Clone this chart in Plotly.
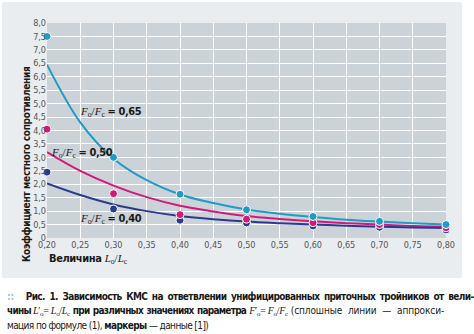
import plotly.graph_objects as go

# Relative length Lo/Lc
x_line = [0.20, 0.25, 0.30, 0.35, 0.40, 0.45, 0.50, 0.55, 0.60, 0.65, 0.70, 0.75, 0.80]
x_pts = [0.20, 0.30, 0.40, 0.50, 0.60, 0.70, 0.80]

# Approximation curves (formula 1)
fit_065 = [6.45, 4.30, 2.95, 2.15, 1.62, 1.30, 1.06, 0.90, 0.78, 0.68, 0.61, 0.55, 0.50]
fit_050 = [3.20, 2.50, 1.95, 1.52, 1.20, 0.99, 0.82, 0.71, 0.62, 0.55, 0.50, 0.45, 0.42]
fit_040 = [2.03, 1.60, 1.25, 1.00, 0.82, 0.70, 0.61, 0.55, 0.50, 0.46, 0.42, 0.39, 0.37]

# Reference data [1]
data_065 = [7.50, 3.00, 1.63, 1.05, 0.80, 0.62, 0.50]
data_050 = [4.05, 1.65, 0.87, 0.70, 0.57, 0.50, 0.38]
data_040 = [2.45, 1.08, 0.66, 0.56, 0.45, 0.40, 0.30]

x_ticks = [0.20, 0.25, 0.30, 0.35, 0.40, 0.45, 0.50, 0.55, 0.60, 0.65, 0.70, 0.75, 0.80]
x_ticktext = ["0,20", "0,25", "0,30", "0,35", "0,40", "0,45", "0,50", "0,55", "0,60", "0,65", "0,70", "0,75", "0,80"]
y_ticks = [0, 0.5, 1.0, 1.5, 2.0, 2.5, 3.0, 3.5, 4.0, 4.5, 5.0, 5.5, 6.0, 6.5, 7.0, 7.5, 8.0]
y_ticktext = ["0", "0,5", "1,0", "1,5", "2,0", "2,5", "3,0", "3,5", "4,0", "4,5", "5,0", "5,5", "6,0", "6,5", "7,0", "7,5", "8,0"]

C_CYAN = "#1f9cc6"
C_MAGENTA = "#d4197c"
C_NAVY = "#2b3a8f"

W, H = 474, 334
L, R, T, B = 47, 28, 23, 96
PW, PH = W - L - R, H - T - B

NARROW = "DejaVu Sans Condensed, Liberation Sans Narrow, sans-serif"
SERIF = "Liberation Serif, DejaVu Serif, serif"


def px(x):
    return (x - L) / PW


def py(y):
    return (H - B - y) / PH


def tight(txt, ls, ws=0):
    return f"<span style='letter-spacing:{ls}px; word-spacing:{ws}px'>{txt}</span>"


fig = go.Figure()

for fit, col in [(fit_065, C_CYAN), (fit_050, C_MAGENTA), (fit_040, C_NAVY)]:
    fig.add_trace(go.Scatter(x=x_line, y=fit, mode="lines",
                             line=dict(color=col, width=2, shape="spline", smoothing=1.0),
                             hoverinfo="skip", showlegend=False))
for data, col in [(data_040, C_NAVY), (data_050, C_MAGENTA), (data_065, C_CYAN)]:
    fig.add_trace(go.Scatter(x=x_pts, y=data, mode="markers",
                             marker=dict(color=col, size=8, line=dict(color="white", width=1)),
                             cliponaxis=False, showlegend=False))

# light panel behind the chart, then the plot area itself
fig.add_shape(type="rect", xref="paper", yref="paper", layer="below",
              x0=px(2), x1=px(462), y0=py(278), y1=py(2),
              fillcolor="#e9edf0", line=dict(width=0))
fig.add_shape(type="rect", xref="paper", yref="paper", layer="below",
              x0=0, x1=1, y0=0, y1=1,
              fillcolor="#cbd2d8", line=dict(width=0))


def ratio(sym):
    return (f"<span style='font-family:{SERIF}'><i>{sym}</i><sub>o</sub>/"
            f"<i>{sym}</i><sub>c</sub></span>")


def param(sym):
    return (f"<span style='font-family:{SERIF}; letter-spacing:-0.3px'><i>{sym}</i>′<sub>o</sub>="
            f" <i>{sym}</i><sub>o</sub>/<i>{sym}</i><sub>c</sub></span>")


ann = []
for label, cx, cy in [("0,65", 111, 112), ("0,50", 82, 153), ("0,40", 111, 219)]:
    ann.append(dict(x=px(cx), y=py(cy), xref="paper", yref="paper", showarrow=False,
                    xanchor="center", yanchor="middle",
                    text=ratio("F") + tight(f" <b>= {label}</b>", -0.4),
                    font=dict(family=NARROW, size=11, color="#1a1a1a")))

ann.append(dict(x=px(27), y=py(164), xref="paper", yref="paper", showarrow=False,
                xanchor="center", yanchor="middle",
                textangle=-90, text=tight("<b>Коэффициент местного сопротивления</b>", -0.3),
                font=dict(family=NARROW, size=10, color="#1a1a1a")))
ann.append(dict(x=px(47), y=py(259), xref="paper", yref="paper", showarrow=False,
                xanchor="left", yanchor="middle",
                text=tight("<b>Величина</b>", -0.4) + " " + ratio("L"),
                font=dict(family=NARROW, size=11, color="#1a1a1a")))

caption = [
    ("<span style='color:#8fc6dc'><b>::</b></span>    " + tight(
        "<b>Рис. 1. Зависимость КМС на ответвлении "
        "унифицированных приточных тройников от вели-</b>", -0.6, 2), 296),
    (tight("<b>чины</b> ", -0.75) + param("L") + " " +
     tight("<b>при различных значениях параметра</b> ", -0.75, 1) + param("F") + " " +
     tight("(сплошные линии — аппрокси-", -0.1, 3), 311),
    (tight("мация по формуле (1), <b>маркеры</b> — данные [1])", -0.6), 325),
]
for txt, cy in caption:
    ann.append(dict(x=px(5), y=py(cy), xref="paper", yref="paper", showarrow=False,
                    xanchor="left", yanchor="middle", text=txt,
                    font=dict(family=NARROW, size=10, color="#1a1a1a")))

fig.update_layout(
    width=W, height=H,
    margin=dict(l=L, r=R, t=T, b=B),
    paper_bgcolor="white",
    plot_bgcolor="rgba(0,0,0,0)",
    annotations=ann,
    xaxis=dict(range=[0.20, 0.80], tickvals=x_ticks, ticktext=x_ticktext,
               showgrid=True, gridcolor="white", gridwidth=1, zeroline=False,
               showline=False, ticks="", ticklen=0,
               tickfont=dict(family=NARROW, size=9, color="#555555")),
    yaxis=dict(range=[0, 8.0], tickvals=y_ticks, ticktext=y_ticktext,
               showgrid=True, gridcolor="white", gridwidth=1, zeroline=False,
               showline=False, ticks="", ticklen=0,
               tickfont=dict(family=NARROW, size=9, color="#555555")),
)

fig.write_html("out.html")
